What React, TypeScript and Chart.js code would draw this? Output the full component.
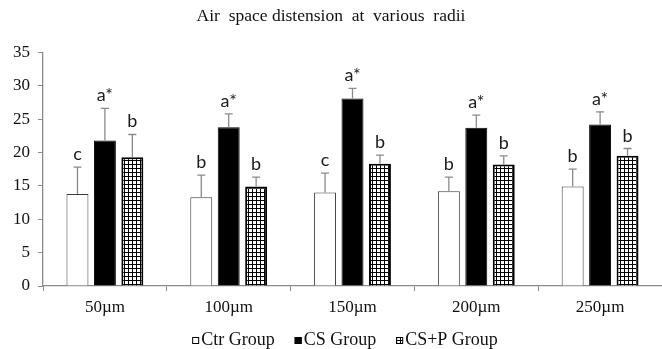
import React, { useEffect, useRef } from "react";
import { Chart, registerables } from "chart.js";

Chart.register(...registerables);

const categories = ["50µm", "100µm", "150µm", "200µm", "250µm"];
const seriesNames = ["Ctr Group", "CS Group", "CS+P Group"];
const ctrValues = [13.8, 13.3, 14.0, 14.2, 14.9];
const ctrErrors = [4.0, 3.3, 2.9, 2.1, 2.6];
const csValues = [21.8, 23.8, 28.1, 23.7, 24.2];
const csErrors = [4.8, 2.0, 1.5, 1.9, 1.9];
const cspValues = [19.3, 14.9, 18.3, 18.2, 19.5];
const cspErrors = [3.4, 1.4, 1.3, 1.3, 1.1];
const ctrLetters = ["c", "b", "c", "b", "b"];
const csLetters = ["a*", "a*", "a*", "a*", "a*"];
const cspLetters = ["b", "b", "b", "b", "b"];
const yTicks = [0, 5, 10, 15, 20, 25, 30, 35];
const titleText = "Air  space distension  at  various  radii";

const SERIF = "'Liberation Serif', 'Times New Roman', serif";

function makeGridPattern(): CanvasPattern | string {
  const c = document.createElement("canvas");
  c.width = 4;
  c.height = 4;
  const g = c.getContext("2d");
  if (!g) return "#888";
  g.fillStyle = "#ffffff";
  g.fillRect(0, 0, 4, 4);
  g.fillStyle = "#000000";
  g.fillRect(0, 0, 4, 1);
  g.fillRect(0, 0, 1, 4);
  const p = g.createPattern(c, "repeat");
  return p || "#888";
}

export default function App() {
  const ref = useRef<HTMLCanvasElement | null>(null);

  useEffect(() => {
    if (!ref.current) return;
    const pattern = makeGridPattern();
    const errors = [ctrErrors, csErrors, cspErrors];
    const letters = [ctrLetters, csLetters, cspLetters];

    const errorPlugin = {
      id: "errorBars",
      afterDatasetsDraw(chart: any) {
        const ctx = chart.ctx;
        const yScale = chart.scales.y;
        ctx.save();
        chart.data.datasets.forEach((ds: any, di: number) => {
          const meta = chart.getDatasetMeta(di);
          meta.data.forEach((bar: any, i: number) => {
            const v = ds.data[i] as number;
            const e = errors[di][i];
            const x = bar.x;
            const yTop = yScale.getPixelForValue(v);
            const yErr = yScale.getPixelForValue(v + e);
            ctx.strokeStyle = "#8a8a8a";
            ctx.lineWidth = 1.3;
            ctx.beginPath();
            ctx.moveTo(x, yTop);
            ctx.lineTo(x, yErr);
            ctx.moveTo(x - 4, yErr);
            ctx.lineTo(x + 4, yErr);
            ctx.stroke();
            ctx.fillStyle = "#1a1a1a";
            ctx.font = "18px Lato, 'Open Sans', sans-serif";
            ctx.textAlign = "center";
            ctx.textBaseline = "alphabetic";
            ctx.fillText(letters[di][i], x, yErr - 7);
          });
        });
        ctx.restore();
      },
    };

    const legendPlugin = {
      id: "customLegend",
      afterDraw(chart: any) {
        const ctx = chart.ctx;
        ctx.save();
        ctx.font = "18px " + SERIF;
        const box = 7;
        const gap = 2;
        const itemGap = 20;
        const widths = chart.data.datasets.map(
          (ds: any) => box + gap + ctx.measureText(ds.label).width
        );
        const total =
          widths.reduce((a: number, b: number) => a + b, 0) +
          itemGap * (widths.length - 1);
        let x = 345 - total / 2;
        const yc = 340;
        chart.data.datasets.forEach((ds: any, i: number) => {
          ctx.fillStyle = ds.backgroundColor;
          ctx.fillRect(x, yc - 3, box, box);
          ctx.strokeStyle = "#000";
          ctx.lineWidth = 1;
          ctx.strokeRect(x + 0.5, yc - 3 + 0.5, box - 1, box - 1);
          ctx.fillStyle = "#111";
          ctx.textAlign = "left";
          ctx.textBaseline = "middle";
          ctx.fillText(ds.label, x + box + gap, yc);
          x += widths[i] + itemGap;
        });
        ctx.restore();
      },
    };

    const commonBar = { categoryPercentage: 0.665, barPercentage: 0.8 };

    const chart = new Chart(ref.current, {
      type: "bar",
      data: {
        labels: categories,
        datasets: [
          {
            label: seriesNames[0],
            data: ctrValues,
            backgroundColor: "#ffffff",
            borderColor: "#3a3a3a",
            borderWidth: 1,
            ...commonBar,
          },
          {
            label: seriesNames[1],
            data: csValues,
            backgroundColor: "#000000",
            borderColor: "#000000",
            borderWidth: 1,
            ...commonBar,
          },
          {
            label: seriesNames[2],
            data: cspValues,
            backgroundColor: pattern as any,
            borderColor: "#000000",
            borderWidth: 2,
            ...commonBar,
          },
        ],
      },
      options: {
        responsive: true,
        maintainAspectRatio: false,
        animation: false,
        layout: { padding: { left: 0, right: 0, top: 0, bottom: 32 } },
        plugins: {
          legend: { display: false },
          tooltip: { enabled: false },
          title: {
            display: true,
            text: titleText,
            color: "#111",
            font: { family: SERIF, size: 17.5, weight: "normal" },
            padding: { top: 6, bottom: 25.4 },
          },
        },
        scales: {
          x: {
            grid: {
              display: true,
              drawOnChartArea: false,
              offset: true,
              tickLength: 5,
              color: "#8a8a8a",
            },
            border: { color: "#8a8a8a", width: 1.3 },
            ticks: {
              color: "#111",
              font: { family: SERIF, size: 17 },
              padding: 6,
            },
            afterFit(scale: any) {
              scale.height = 31;
            },
          },
          y: {
            min: 0,
            max: 35,
            afterBuildTicks(scale: any) {
              scale.ticks = yTicks.map((v) => ({ value: v }));
            },
            grid: {
              display: true,
              drawOnChartArea: false,
              tickLength: 5,
              color: "#8a8a8a",
            },
            border: { color: "#8a8a8a", width: 1.3 },
            ticks: {
              color: "#111",
              font: { family: SERIF, size: 17 },
              padding: 8,
            },
            afterFit(scale: any) {
              scale.width = 43;
            },
          },
        },
      },
      plugins: [errorPlugin, legendPlugin],
    });
    return () => chart.destroy();
  }, []);

  return (
    <div style={{ position: "absolute", left: 0, top: 0, width: 662, height: 349, background: "#fff" }}>
      <canvas ref={ref} />
    </div>
  );
}
